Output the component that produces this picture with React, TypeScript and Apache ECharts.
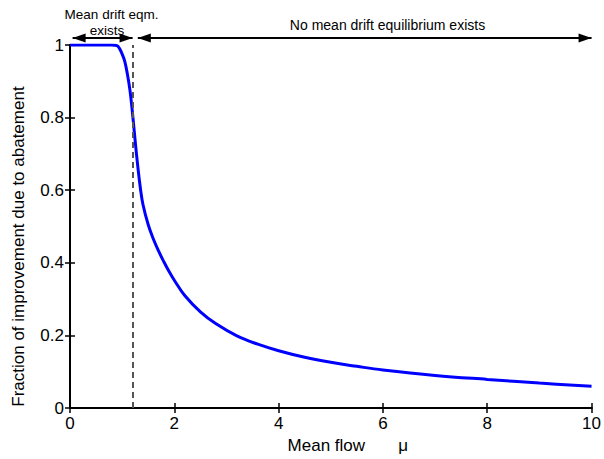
import React, { useEffect, useRef } from "react";
import * as echarts from "echarts";

const muValues = [0, 0.5, 0.8, 0.9, 0.95, 1.0, 1.05, 1.1, 1.15, 1.2, 1.25, 1.3, 1.35, 1.4, 1.5, 1.6, 1.7, 1.8, 1.9, 2.0, 2.2, 2.5, 2.8, 3.2, 3.6, 4.0, 4.5, 5.0, 5.5, 6.0, 7.0, 8.0, 9.0, 10.0];
const fractionValues = [1, 1, 1, 0.998, 0.99, 0.975, 0.955, 0.92, 0.875, 0.81, 0.735, 0.665, 0.605, 0.56, 0.505, 0.465, 0.432, 0.403, 0.376, 0.352, 0.31, 0.265, 0.232, 0.199, 0.176, 0.158, 0.14, 0.126, 0.115, 0.105, 0.09, 0.079, 0.069, 0.06];
const thresholdMu = 1.2;
const leftArrowRange = [0.05, 1.2];
const rightArrowRange = [1.3, 10];
const xTickLabels = ["0", "2", "4", "6", "8", "10"];
const yTickLabels = ["0", "0.2", "0.4", "0.6", "0.8", "1"];

const FONT = "Liberation Sans, Arial, sans-serif";

export default function App() {
  const ref = useRef<HTMLDivElement>(null);
  useEffect(() => {
    if (!ref.current) return;
    const chart = echarts.init(ref.current, undefined, { renderer: "svg" });
    const data = muValues.map((m, i) => [m, fractionValues[i]]);
    const axisCommon = {
      axisLine: { show: true, lineStyle: { color: "#000", width: 2 } },
      axisTick: { show: true, inside: true, length: 5, lineStyle: { color: "#000", width: 1.5 } },
      splitLine: { show: false },
    };
    chart.setOption({
      animation: false,
      backgroundColor: "#fff",
      grid: { left: 70, right: 9, top: 45, bottom: 47 },
      xAxis: [
        {
          type: "value", min: 0, max: 10, interval: 2, position: "bottom",
          ...axisCommon,
          axisLabel: { color: "#000", fontSize: 17, fontFamily: FONT, margin: 7, formatter: (v: number) => xTickLabels[Math.round(v / 2)] },
          name: "Mean flow       μ",
          nameLocation: "middle",
          nameGap: 27,
          nameTextStyle: { color: "#000", fontSize: 17, fontFamily: FONT, padding: [0, 0, 0, 34] },
        },
        {
          type: "value", min: 0, max: 10, interval: 2, position: "top",
          ...axisCommon, axisLabel: { show: false },
        },
      ],
      yAxis: [
        {
          type: "value", min: 0, max: 1, interval: 0.2, position: "left",
          ...axisCommon,
          axisLabel: { color: "#000", fontSize: 17, fontFamily: FONT, margin: 6, formatter: (v: number) => yTickLabels[Math.round(v * 5)] },
          name: "Fraction of improvement due to abatement",
          nameLocation: "middle",
          nameGap: 43,
          nameTextStyle: { color: "#000", fontSize: 17, fontFamily: FONT, padding: [0, 40, 0, 0] },
        },
        {
          type: "value", min: 0, max: 1, interval: 0.2, position: "right",
          ...axisCommon, axisLabel: { show: false },
        },
      ],
      series: [
        {
          type: "line",
          data,
          smooth: 0.4,
          showSymbol: false,
          lineStyle: { color: "#0000ff", width: 3 },
          markLine: {
            silent: true,
            symbol: "none",
            label: { show: false },
            lineStyle: { color: "#555", type: [6, 4], width: 2 },
            data: [{ xAxis: thresholdMu }],
          },
        },
      ],
    });

    const px = (v: number) => chart.convertToPixel({ xAxisIndex: 0 }, v) as number;
    const yArrow = 38;
    const head = (x: number, dir: number) => ({
      type: "polygon",
      shape: { points: [[x, yArrow], [x - dir * 13, yArrow - 4.5], [x - dir * 13, yArrow + 4.5]] },
      style: { fill: "#000" },
    });
    const l0 = px(leftArrowRange[0]);
    const l1 = px(leftArrowRange[1]);
    const r0 = px(rightArrowRange[0]);
    const r1 = px(rightArrowRange[1]);
    chart.setOption({
      graphic: [
        { type: "line", shape: { x1: l0, y1: yArrow, x2: l1, y2: yArrow }, style: { stroke: "#000", lineWidth: 2 } },
        head(l0, -1),
        head(l1, 1),
        { type: "line", shape: { x1: r0, y1: yArrow, x2: r1, y2: yArrow }, style: { stroke: "#000", lineWidth: 2 } },
        head(r0, -1),
        head(r1, 1),
        { type: "text", x: 111.5, y: 14, style: { text: "Mean drift eqm.", fill: "#000", font: `13.5px ${FONT}`, textAlign: "center", textVerticalAlign: "middle" } },
        { type: "text", x: 107, y: 30, style: { text: "exists", fill: "#000", font: `13.5px ${FONT}`, textAlign: "center", textVerticalAlign: "middle" } },
        { type: "text", x: 387.5, y: 25, style: { text: "No mean drift equilibrium exists", fill: "#000", font: `14px ${FONT}`, textAlign: "center", textVerticalAlign: "middle" } },
      ],
    });
    return () => chart.dispose();
  }, []);
  return <div ref={ref} style={{ width: 604, height: 459, position: "absolute", left: 0, top: 0 }} />;
}
